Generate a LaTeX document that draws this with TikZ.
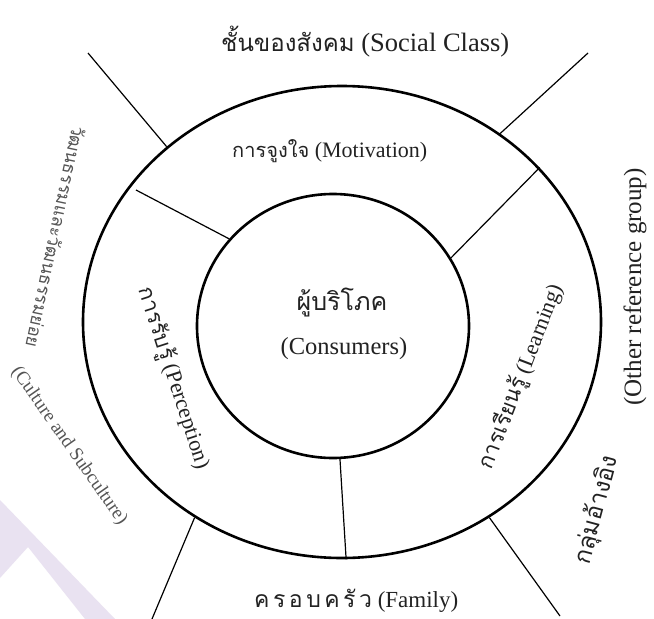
\documentclass[tikz,border=0pt]{standalone}
\usepackage{fontspec}
\setmainfont{Liberation Serif}
\newfontfamily\thaifont[Script=Thai]{Loma}
\usetikzlibrary{shapes.geometric}
\definecolor{wm}{HTML}{E9E2F1}
\definecolor{ink}{HTML}{222222}
\definecolor{soft}{HTML}{555555}
\newcommand{\thaisz}[2]{{\thaifont\fontsize{#1}{#1}\selectfont #2}}
\tikzset{
  ring/.style={draw=black, ellipse, inner sep=0pt, line width=2.6pt},
  spoke/.style={draw=black, line width=1.2pt},
  lbl/.style={inner sep=1pt, text=ink, font=\fontsize{22}{26}\selectfont},
  softlbl/.style={inner sep=1pt, text=soft, font=\fontsize{19}{22}\selectfont},
}
\begin{document}
\begin{tikzpicture}[x=1pt, y=-1pt]
\useasboundingbox (0,0) rectangle (654,619);
\fill[white] (0,0) rectangle (654,619);
% watermark
\fill[wm] (0,500) -- (115,619) -- (85,619) -- (28,547) -- (0,578) -- cycle;

\node[ring, minimum width=518pt, minimum height=472pt] (outer) at (342,322) {};
\node[ring, minimum width=272pt, minimum height=264pt] (inner) at (333,326) {};

% free ends
\coordinate (ulfree) at (88,53);
\coordinate (urfree) at (588,53);
\coordinate (llfree) at (152,619);
\coordinate (lrfree) at (560,616);
\coordinate (ulin) at (136,190);

\draw[spoke] (ulfree) -- (outer.135);
\draw[spoke] (urfree) -- (outer.50.7);
\draw[spoke] (llfree) -- (outer.233);
\draw[spoke] (lrfree) -- (outer.307.8);
\draw[spoke] (ulin) -- (inner.140.4);
\draw[spoke] (outer.38.6) -- (inner.30.9);
\draw[spoke] (inner.273) -- (outer.271);

% labels
\node[lbl, anchor=west, font=\fontsize{26.5}{30}\selectfont] (social) at (220,42) {\thaisz{24}{ชั้นของสังคม} (Social Class)};
\node[lbl, anchor=west, font=\fontsize{22}{26}\selectfont] (motiv) at (231,151) {\thaisz{20}{การจูงใจ} (Motivation)};
\node[lbl] (cons1) at (342,302) {\thaisz{25}{ผู้บริโภค}};
\node[lbl, font=\fontsize{24.5}{28}\selectfont] (cons2) at (344,349) {(Consumers)};
\node[lbl, rotate=-72] (perc) at (174,378) {\thaisz{22}{การรับรู้} (Perception)};
\node[lbl, rotate=69] (learn) at (521,377) {\thaisz{22}{การเรียนรู้} (Learning)};
\node[lbl, rotate=90, font=\fontsize{25}{29}\selectfont] (other) at (635,287) {(Other reference group)};
\node[lbl, rotate=75] (ref) at (597,510) {\thaisz{24}{กลุ่มอ้างอิง}};
\node[softlbl, rotate=-102] (cult1) at (56,237) {\thaisz{18}{วัฒนธรรมและวัฒนธรรมย่อย}};
\node[softlbl, rotate=-55] (cult2) at (69,446) {(Culture and Subculture)};
\node[lbl, anchor=west, font=\fontsize{23}{27}\selectfont] (family) at (253,601) {\thaisz{23}{ค\kern3.5ptร\kern3.5ptอ\kern3.5ptบ\kern3.5ptค\kern3.5ptรั\kern3.5ptว} (Family)};
\end{tikzpicture}
\end{document}
